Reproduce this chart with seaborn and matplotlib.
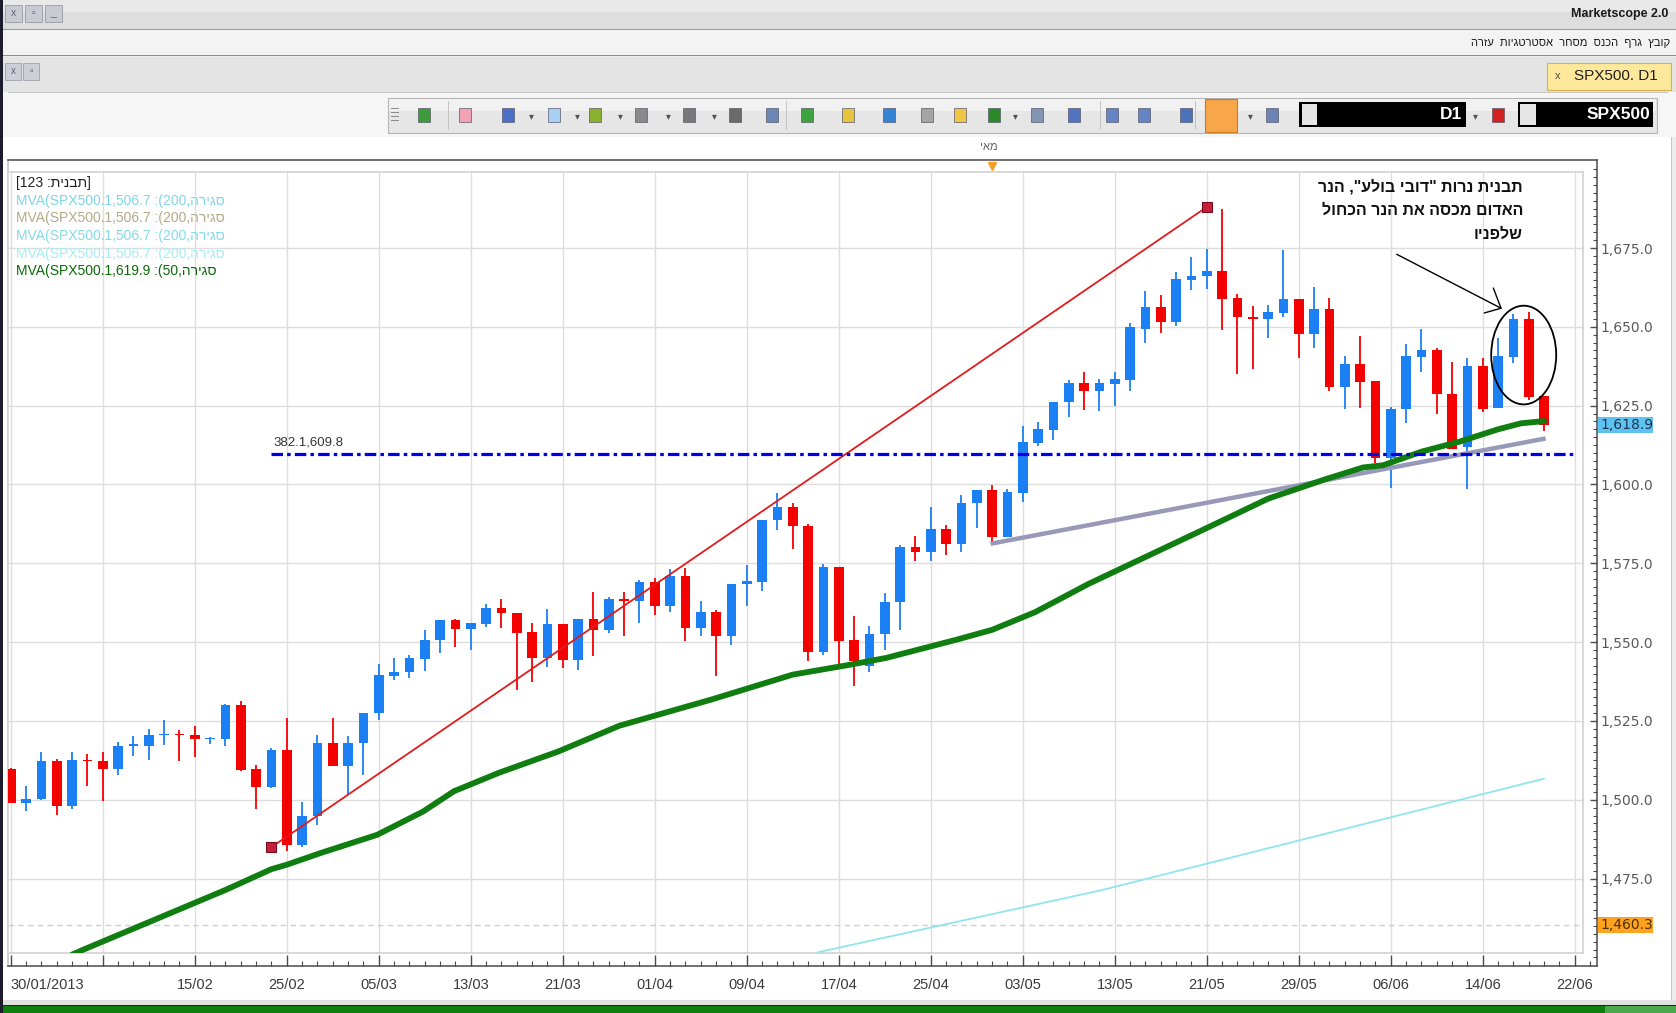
import numpy as np
import pandas as pd
import matplotlib
matplotlib.use("Agg")
import matplotlib.pyplot as plt
import seaborn as sns
from matplotlib.patches import Rectangle, Ellipse
from matplotlib.transforms import Affine2D
from matplotlib.ticker import FuncFormatter

W, H = 1676, 1013

# ---------------- data ----------------
# one candle per trading day, 30/01/2013 .. 20/06/2013 (index 0..100)
tick_labels = ["30/01/2013", "", "15/02", "25/02", "05/03", "13/03", "21/03", "01/04",
               "09/04", "17/04", "25/04", "03/05", "13/05", "21/05", "29/05", "06/06",
               "14/06", "22/06"]

opens = [1509.8, 1499.0, 1500.1, 1512.2, 1497.9, 1512.7, 1512.4, 1509.7, 1517.2, 1517.2,
         1520.5, 1521.0, 1520.6, 1519.2, 1519.4, 1530.1, 1509.8, 1503.9, 1515.9, 1485.5,
         1495.0, 1518.1, 1510.8, 1517.9, 1527.4, 1539.3, 1540.4, 1544.8, 1550.6, 1557.0,
         1554.1, 1555.9, 1560.7, 1559.2, 1553.1, 1545.1, 1555.8, 1544.4, 1557.4, 1553.9,
         1563.8, 1563.0, 1569.2, 1561.6, 1571.0, 1554.5, 1559.5, 1552.1, 1568.4, 1569.2,
         1588.6, 1593.0, 1586.9, 1546.8, 1573.9, 1550.8, 1542.5, 1552.5, 1562.6, 1580.1,
         1578.7, 1585.9, 1581.1, 1594.0, 1598.3, 1583.2, 1597.4, 1613.3, 1617.4, 1626.0,
         1632.2, 1629.8, 1631.9, 1633.2, 1649.4, 1656.3, 1651.4, 1664.9, 1666.0, 1667.8,
         1659.1, 1653.1, 1652.4, 1654.3, 1658.9, 1647.7, 1655.7, 1630.8, 1638.2, 1632.8,
         1608.5, 1623.8, 1640.3, 1642.7, 1628.7, 1611.8, 1637.6, 1624.1, 1640.3, 1652.4,
         1628.1]
highs = [1510.2, 1504.5, 1515.0, 1513.0, 1515.3, 1514.5, 1515.1, 1518.3, 1520.2, 1522.4,
         1525.3, 1522.0, 1523.3, 1520.0, 1530.5, 1531.3, 1511.1, 1516.4, 1525.9, 1499.2,
         1520.6, 1525.9, 1520.3, 1527.6, 1543.1, 1545.1, 1546.0, 1553.7, 1557.0, 1557.4,
         1556.0, 1562.1, 1563.6, 1559.2, 1556.0, 1560.5, 1555.8, 1557.4, 1565.9, 1564.2,
         1565.9, 1569.8, 1570.3, 1573.2, 1573.5, 1562.9, 1560.3, 1568.5, 1574.5, 1588.8,
         1597.2, 1594.1, 1587.5, 1574.8, 1573.9, 1558.2, 1555.2, 1565.5, 1580.9, 1583.5,
         1592.7, 1587.0, 1596.7, 1598.3, 1599.7, 1598.7, 1618.6, 1619.8, 1626.2, 1633.0,
         1635.6, 1633.5, 1635.6, 1651.2, 1661.4, 1660.2, 1667.4, 1672.1, 1674.8, 1687.5,
         1660.5, 1656.7, 1657.0, 1674.5, 1658.9, 1662.5, 1659.3, 1640.6, 1647.1, 1632.8,
         1624.5, 1644.6, 1649.3, 1643.2, 1638.7, 1640.1, 1640.0, 1646.4, 1654.1, 1654.6,
         1628.1]
lows = [1499.0, 1496.3, 1500.0, 1495.3, 1497.0, 1504.3, 1499.5, 1508.0, 1513.8, 1512.5,
        1517.5, 1512.2, 1513.5, 1517.8, 1517.2, 1509.0, 1497.1, 1503.6, 1483.7, 1485.0,
        1492.1, 1510.8, 1501.6, 1508.0, 1525.4, 1538.0, 1538.6, 1541.0, 1546.7, 1548.6,
        1547.6, 1554.7, 1554.6, 1534.9, 1537.2, 1542.0, 1541.8, 1541.3, 1545.5, 1552.9,
        1551.8, 1556.0, 1558.7, 1559.5, 1550.2, 1551.8, 1539.1, 1549.2, 1561.3, 1566.1,
        1585.6, 1579.5, 1543.9, 1546.0, 1543.2, 1536.0, 1540.4, 1547.6, 1553.7, 1575.8,
        1575.8, 1577.7, 1578.7, 1586.1, 1581.9, 1583.2, 1594.6, 1612.2, 1614.1, 1621.3,
        1623.6, 1623.4, 1624.9, 1629.8, 1645.0, 1648.2, 1650.3, 1661.8, 1662.1, 1649.0,
        1635.0, 1636.6, 1646.4, 1653.1, 1640.0, 1643.2, 1629.8, 1623.9, 1624.1, 1606.7,
        1599.0, 1619.4, 1635.8, 1622.4, 1611.4, 1598.7, 1623.1, 1624.1, 1638.5, 1626.8,
        1617.0]
closes = [1499.0, 1500.3, 1512.2, 1497.9, 1512.7, 1512.2, 1509.7, 1517.1, 1517.8, 1520.6,
          1521.0, 1520.4, 1519.2, 1519.6, 1530.2, 1509.5, 1503.9, 1515.9, 1485.5, 1495.0,
          1518.1, 1510.8, 1518.1, 1527.6, 1539.6, 1540.5, 1544.9, 1550.7, 1557.0, 1554.1,
          1556.0, 1560.7, 1559.1, 1553.0, 1545.1, 1555.8, 1544.4, 1557.4, 1553.9, 1563.8,
          1563.1, 1569.2, 1561.6, 1571.0, 1554.5, 1559.5, 1552.1, 1568.5, 1569.5, 1588.8,
          1593.0, 1586.7, 1546.8, 1573.9, 1550.4, 1543.9, 1552.7, 1562.8, 1580.1, 1578.7,
          1585.9, 1581.1, 1594.2, 1598.3, 1583.2, 1597.6, 1613.5, 1617.6, 1626.2, 1632.3,
          1629.8, 1632.1, 1633.4, 1649.8, 1656.3, 1651.4, 1665.1, 1666.2, 1667.8, 1658.9,
          1653.0, 1652.4, 1654.6, 1658.9, 1647.7, 1655.7, 1630.8, 1638.2, 1632.6, 1608.5,
          1624.0, 1640.6, 1642.7, 1628.6, 1611.4, 1637.6, 1623.8, 1640.6, 1652.4, 1627.9,
          1618.9]

# moving averages (read at points along the drawn curves)
ma50_x = [4.0, 4.7, 14.0, 17.0, 18.0, 20.2, 23.9, 26.9, 28.9, 31.8, 35.7, 39.7, 45.7,
          51.0, 54.7, 57.1, 61.7, 64.0, 66.8, 70.3, 77.7, 82.0, 85.7, 88.2, 89.5, 92.0,
          94.5, 97.0, 98.5, 100.0]
ma50_y = [1450.9, 1452.4, 1471.4, 1478.0, 1479.4, 1483.1, 1488.9, 1496.3, 1502.7, 1508.5,
          1515.3, 1523.5, 1531.8, 1539.7, 1542.8, 1545.0, 1550.8, 1553.9, 1559.5, 1568.5,
          1585.5, 1595.5, 1601.6, 1605.4, 1606.1, 1610.4, 1613.6, 1617.5, 1619.4, 1620.1]
ma200_x = [52.6, 71.2, 100.0]
ma200_y = [1451.6, 1471.4, 1506.7]

# drawn objects
trend_x = [17.0, 78.0]
trend_y = [1485.0, 1688.0]
fib_x = [17.0, 102.0]
fib_level = 1609.8
support_x = [63.9, 100.1]
support_y = [1581.2, 1614.6]
arrow_x = [90.39, 97.19]
arrow_y = [1673.0, 1655.9]
head_x = [96.69, 97.19, 96.1]
head_y = [1662.3, 1655.9, 1654.4]
circle_center = (98.67, 1641.05)
circle_size = (4.24, 31.3)
last_price = 1618.9
low_line = 1460.3

# texts are stored in visual (left-to-right) order, Hebrew runs reversed
legend_lines = ["[123 :" + "תבנית"[::-1] + "]",
                "MVA(SPX500.1,506.7 :(200," + "סגירה"[::-1],
                "MVA(SPX500.1,506.7 :(200," + "סגירה"[::-1],
                "MVA(SPX500.1,506.7 :(200," + "סגירה"[::-1],
                "MVA(SPX500.1,506.7 :(200," + "סגירה"[::-1],
                "MVA(SPX500.1,619.9 :(50," + "סגירה"[::-1]]
legend_colors = ["#202020", "#7fd6e6", "#b3aa86", "#84dbe9", "#a6ecf3", "#0a6a0a"]
note_lines = ['תבנית נרות "דובי בולע", הנר', "האדום מכסה את הנר הכחול", "שלפניו"]
menu_text = "קובץ  גרף  הכנס  מסחר  אסטרטגיות  עזרה"

BLUE = "#1b80f3"
RED = "#f40000"

# ---------------- figure and window chrome ----------------
sns.set_theme(style="white")
plt.rcParams["font.family"] = ["Liberation Sans", "DejaVu Sans"]

fig = plt.figure(figsize=(W / 100, H / 100), dpi=100)
fig.patch.set_facecolor("#ececec")
pix = Affine2D().scale(1 / W, -1 / H).translate(0, 1) + fig.transFigure


def box(x, y, w, h, color, ec="none", lw=0.8, z=1):
    fig.add_artist(Rectangle((x, y), w, h, transform=pix, facecolor=color,
                             edgecolor=ec, linewidth=lw, zorder=z))


def label(x, y, s, **kw):
    kw.setdefault("va", "center")
    fig.text(x / W, 1 - y / H, s, **kw)


# title bar, menu, tab strip
box(0, 0, W, 29, "#dedede", z=-2)
box(0, 0, W, 12, "#e9e9e9", z=-2)
box(0, 29, W, 1, "#9a9a9a", z=-2)
label(1668, 14, "Marketscope 2.0", ha="right", fontsize=9, fontweight="bold", color="#1a1a1a")
for bx, sym in [(5, "x"), (25, "▫"), (45, "_")]:
    box(bx, 5, 17, 17, "#c9cad2", ec="#9a9aa8", lw=0.6)
    label(bx + 8.5, 13, sym, ha="center", fontsize=7.5, color="#606070")
box(0, 30, W, 25, "#f3f3f3", z=-2)
label(1670, 43, menu_text[::-1], ha="right", fontsize=8, color="#1a1a1a")
box(0, 55, W, 1.5, "#8c8c8c", z=-2)
box(0, 57, W, 35, "#e4e4e4", z=-2)
for bx, sym in [(5, "x"), (23, "▫")]:
    box(bx, 63, 16, 17, "#cdced6", ec="#a0a0aa", lw=0.6)
    label(bx + 8, 71, sym, ha="center", fontsize=7, color="#606070")
box(1547, 63, 124, 27, "#fde89c", ec="#d6b44c", lw=0.8)
label(1558, 76, "x", ha="center", fontsize=8, color="#505050")
label(1574, 76, "SPX500. D1", ha="left", fontsize=11, color="#202020")
box(0, 92, W, 45, "#f6f6f6", z=-2)
box(8, 92, 1660, 1, "#c4c4c4", z=-2)

# toolbar
box(388, 98, 1269, 35, "#e6e6e6", ec="#b4b4b4", lw=0.8)
box(389, 99, 1267, 12, "#f1f1f1")
icons = [(424, "#3c9c3c"), (465, "#f2a4b4"), (508, "#4a70c8"), (554, "#a8d0f2"),
         (595, "#8ab030"), (641, "#8a8a8a"), (689, "#787878"), (735, "#6a6a6a"),
         (772, "#6a86b4"), (807, "#3ea23e"), (848, "#e6c440"), (889, "#3484d4"),
         (927, "#a4a4a4"), (960, "#f0c444"), (994, "#2a8a2a"), (1037, "#8494b4"),
         (1074, "#5272c2"), (1112, "#6484c4"), (1144, "#6484c4"), (1186, "#4c72ba"),
         (1272, "#6c84b4"), (1498, "#d42020")]
for k in range(4):
    box(391, 108 + k * 4, 8, 1.5, "#8a8a8a")
box(1205, 99, 32, 33, "#f7a64a", ec="#d07a20", lw=0.8)
for bx, c in icons:
    box(bx - 6, 108, 12, 14, c, ec="#5a5a6a", lw=0.5, z=2)
for bx in [531, 577, 620, 668, 714, 1015, 1250, 1475]:
    label(bx, 116, "▾", ha="center", fontsize=7, color="#505050", family="DejaVu Sans")
for bx in [448, 786, 1100, 1195]:
    box(bx, 101, 1, 29, "#c4c4c4")
box(1299, 102, 167, 25, "black", z=2)
box(1302, 104, 15, 21, "#e6e6e6", z=3)
label(1462, 114.5, "D1", ha="right", fontsize=12.5, fontweight="bold", color="white")
box(1518, 102, 135, 25, "black", z=2)
box(1520, 104, 16, 21, "#e6e6e6", z=3)
label(1650, 114.5, "SPX500", ha="right", fontsize=12.5, fontweight="bold", color="white")

# chart panel and bottom status bar
box(3, 137, 1668, 864, "white", z=-1)
box(1671, 137, 1, 864, "#c8c8c8", z=-1)
box(0, 1000, W, 5, "#e0e0e0", z=-1)
box(0, 1005, W, 1.5, "#202020", z=-1)
box(0, 1006.5, 1605, 6.5, "#0e7e0e", z=-1)
box(1605, 1006.5, 71, 6.5, "#4ca84c", z=-1)
box(0, 0, 3, H, "#1c1c2c", z=3)
label(989, 147, "מאי"[::-1], ha="center", fontsize=8, color="#606060")


# ---------------- chart axes ----------------
def xpos(px_):
    return (px_ - 10.8) / 15.333


def ypos(py_):
    return 1675 - (py_ - 248) / 3.153


frame = fig.add_axes([8 / W, 1 - 966 / H, (1596.7 - 8) / W, (966 - 160) / H])
ax = fig.add_axes([8 / W, 1 - 953 / H, (1583 - 8) / W, (953 - 172) / H])
frame.set_zorder(1)
ax.set_zorder(2)

frame.set_xlim(xpos(8), xpos(1596.7))
frame.set_ylim(ypos(966), ypos(160))
frame.set_facecolor("white")
for s in ["top", "bottom", "right"]:
    frame.spines[s].set_color("#4a4a4a")
    frame.spines[s].set_linewidth(1.1)
frame.spines["left"].set_color("#c8c8c8")
frame.yaxis.tick_right()
frame.set_xticks(range(0, 103, 6))
frame.set_xticks(range(0, 104), minor=True)
frame.set_xticklabels([])
frame.set_yticks(range(1475, 1676, 25))
frame.set_yticks(np.arange(1450, 1702.5, 2.5), minor=True)
frame.yaxis.set_major_formatter(FuncFormatter(lambda v, p: f"{v:,.1f}"))
frame.tick_params(axis="x", which="major", direction="in", length=8, width=1,
                  color="#4a4a4a", bottom=True, top=False)
frame.tick_params(axis="x", which="minor", direction="in", length=3.5, width=0.8,
                  color="#4a4a4a", bottom=True, top=False)
frame.tick_params(axis="y", which="major", direction="in", length=5, width=1,
                  color="#4a4a4a", right=True, left=False, labelright=True, labelleft=False,
                  labelsize=10, labelcolor="#5a5a5a", pad=3, labelfontfamily="DejaVu Sans")
frame.tick_params(axis="y", which="minor", direction="in", length=3, width=0.8,
                  color="#4a4a4a", right=True, left=False)
for i, lab in zip(range(0, 103, 6), tick_labels):
    frame.text(i, -0.024, lab, transform=frame.get_xaxis_transform(),
               ha="left" if i == 0 else "center", va="center", fontsize=10.5, color="#3a3a3a")
frame.plot(64, ypos(166), marker="v", color="#f2a024", ms=6, clip_on=False)

ax.set_xlim(xpos(8), xpos(1583))
ax.set_ylim(ypos(953), ypos(172))
ax.set_facecolor("white")
for s in ax.spines.values():
    s.set_color("#d2d2d2")
    s.set_linewidth(1.2)
ax.set_xticks([])
ax.set_yticks([])
for i in range(0, 103, 6):
    ax.axvline(i, color="#dddddd", lw=1, zorder=0)
for v in range(1475, 1676, 25):
    ax.axhline(v, color="#dddddd", lw=1, zorder=0)
ax.axhline(low_line, color="#cfcfcf", lw=1, ls=(0, (4, 3)), zorder=0)

# candles
df = pd.DataFrame({"o": opens, "h": highs, "l": lows, "c": closes})
df["i"] = df.index
colors = np.where(df.c >= df.o, BLUE, RED)
ax.vlines(df.i, df.l, df.h, colors=colors, lw=1.3, zorder=2)
ax.bar(df.i, np.maximum((df.c - df.o).abs(), 0.5), bottom=np.minimum(df.o, df.c),
       width=0.64, color=colors, linewidth=0, zorder=3)

# indicators and drawings
sns.lineplot(x=ma200_x, y=ma200_y, ax=ax, color="#8ee6ec", linewidth=1.3,
             estimator=None, sort=False, zorder=4)
sns.lineplot(x=support_x, y=support_y, ax=ax, color="#9898b8", linewidth=3.2,
             estimator=None, sort=False, zorder=5, solid_capstyle="butt")
sns.lineplot(x=ma50_x, y=ma50_y, ax=ax, color="#0f7d0f", linewidth=4.2,
             estimator=None, sort=False, zorder=6, solid_capstyle="round")
sns.lineplot(x=trend_x, y=trend_y, ax=ax, color="#e01c1c", linewidth=1.3,
             estimator=None, sort=False, zorder=6)
ax.scatter(trend_x, trend_y, marker="s", s=42, facecolor="#c81e3a", edgecolor="#6e1020",
           linewidth=0.8, zorder=7)
ax.plot(fib_x, [fib_level, fib_level], color="#0000e4", lw=2.3,
        ls=(0, (3.6, 1.3, 1.1, 1.3)), zorder=6)
ax.text(fib_x[0] + 0.1, fib_level + 3.5, "382.1,609.8", ha="left", va="center",
        fontsize=9.5, color="#333333")
ax.add_patch(Ellipse(circle_center, *circle_size, fill=False, ec="black", lw=1.3, zorder=8))
ax.plot(arrow_x, arrow_y, color="black", lw=1.0, zorder=8)
ax.plot(head_x, head_y, color="black", lw=1.0, zorder=8)

# legend block and note text
for k, (s, c) in enumerate(zip(legend_lines, legend_colors)):
    label(16, 182.8 + 17.7 * k, s, ha="left", fontsize=10, color=c)
for k, s in enumerate(note_lines):
    label(1523, 186.7 + 23.8 * k, s[::-1], ha="right", fontsize=11.5, fontweight="bold",
          color="#111111")

# price flags on the right scale
box(1598, 417, 55, 16, "#5ec2f2", z=2)
label(1600, 425, f"{last_price:,.1f}", ha="left", fontsize=10, color="#1e3550",
      family="DejaVu Sans", zorder=3)
box(1598, 917, 55, 16, "#ffa31e", z=2)
label(1600, 925, f"{low_line:,.1f}", ha="left", fontsize=10, color="#4a3008",
      family="DejaVu Sans", zorder=3)

fig.savefig("out.png", dpi=100)
